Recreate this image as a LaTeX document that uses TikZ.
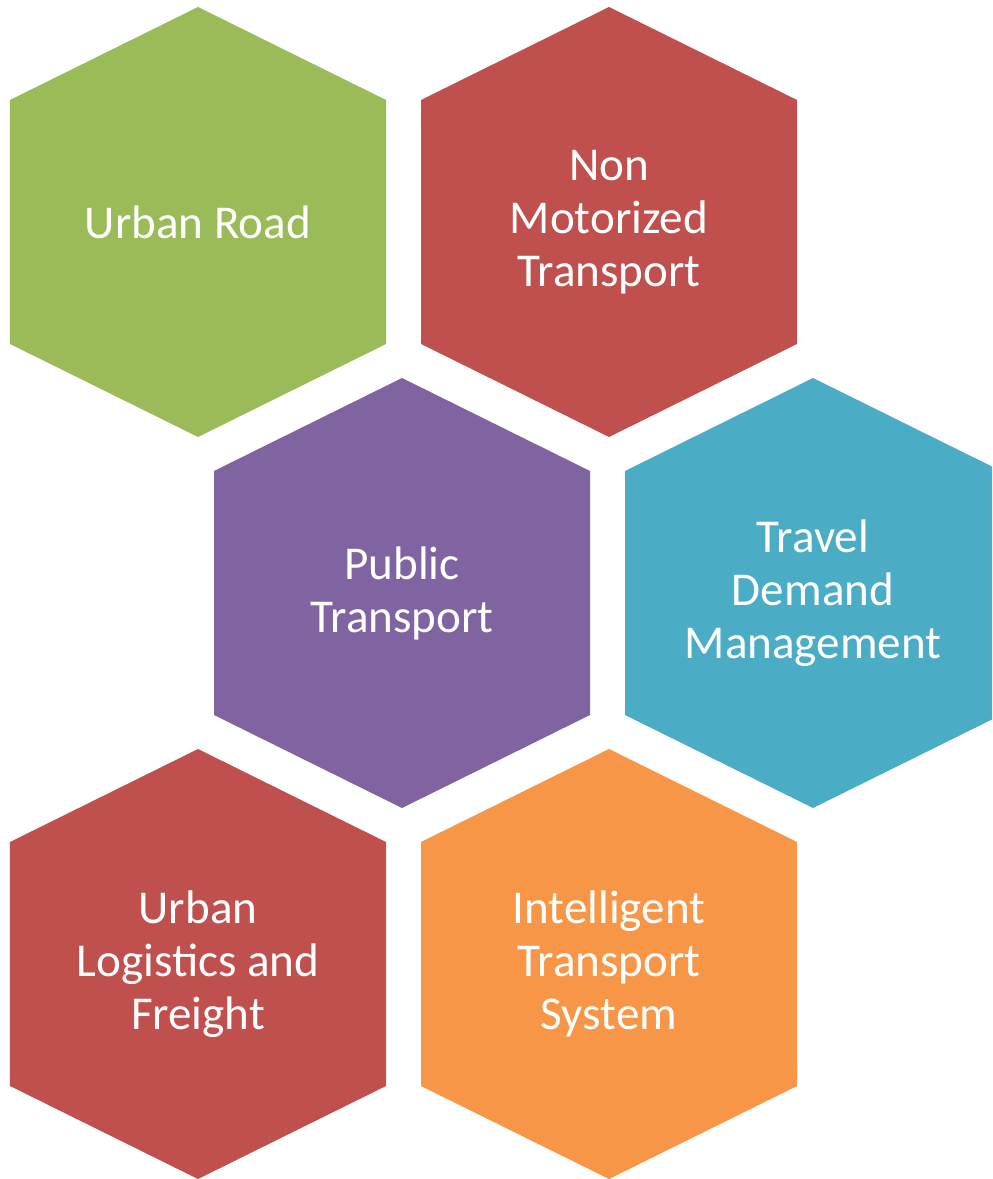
\documentclass[tikz,border=0pt]{standalone}
\usepackage{fontspec}
\setmainfont{Carlito}

\definecolor{hexgreen}{HTML}{9BBB59}
\definecolor{hexred}{HTML}{C0504D}
\definecolor{hexpurple}{HTML}{8064A2}
\definecolor{hexteal}{HTML}{4BACC6}
\definecolor{hexorange}{HTML}{F79646}

\tikzset{hexlabel/.style={text=white, align=center, font=\fontsize{13.4pt}{15.1pt}\selectfont}}

\begin{document}
\begin{tikzpicture}

    % Size of the page and of each hexagon
    \def\xmax{9.92}
    \def\ymin{-11.79}
    \def\hw{1.88}   % half width
    \def\hh{2.15}   % half height, tip
    \def\hs{1.22}   % half height, side

    % Page
    \useasboundingbox (0, 0) rectangle (\xmax, \ymin);
    \clip (0, 0) rectangle (\xmax, \ymin);

    % Hexagons, with their labels
    \foreach \cx/\cy/\col/\name/\txt in {
        1.98/-2.22/hexgreen/road/{Urban Road},
        6.09/-2.22/hexred/nmt/{Non\\Motorized\\Transport},
        4.02/-5.93/hexpurple/pt/{Public\\Transport},
        8.13/-5.93/hexteal/tdm/{Travel\\Demand\\Management},
        1.98/-9.64/hexred/ulf/{Urban\\Logistics and\\Freight},
        6.09/-9.64/hexorange/its/{Intelligent\\Transport\\System}}{
        \fill[\col] (\cx, \cy+\hh) -- (\cx+\hw, \cy+\hs) -- (\cx+\hw, \cy-\hs)
            -- (\cx, \cy-\hh) -- (\cx-\hw, \cy-\hs) -- (\cx-\hw, \cy+\hs) -- cycle;
        \node[hexlabel] (\name) at (\cx, \cy) {\txt};
    }

\end{tikzpicture}
\end{document}
